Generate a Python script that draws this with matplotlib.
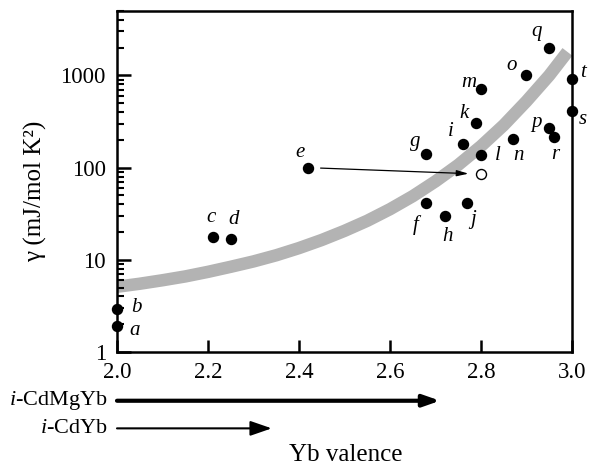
import numpy as np
import matplotlib.pyplot as plt
from matplotlib.ticker import FixedLocator, LogLocator, NullFormatter, FixedFormatter

plt.rcParams['font.family'] = ['Liberation Serif', 'DejaVu Serif']
plt.rcParams['mathtext.fontset'] = 'custom'
plt.rcParams['mathtext.rm'] = 'Liberation Serif'
plt.rcParams['mathtext.it'] = 'Liberation Serif:italic'

# samples a..t: Yb valence and gamma (mJ/mol K^2)
labels = list('abcdefghijklmnopqrst')
valence = [2.0, 2.0, 2.21, 2.25, 2.42, 2.68, 2.68, 2.72, 2.76, 2.77,
           2.79, 2.80, 2.80, 2.87, 2.90, 2.95, 2.95, 2.96, 3.0, 3.0]
gamma = [1.9, 2.9, 17.8, 16.9, 100, 41, 142, 30, 181, 41,
         306, 136, 710, 204, 1000, 268, 2000, 217, 410, 914]

# sample e moved to its corrected valence (open circle)
e_moved = (2.80, 85)

# grey guide curve
curve_x = [2.0, 2.05, 2.1, 2.15, 2.2, 2.25, 2.3, 2.35, 2.4, 2.45, 2.5,
           2.55, 2.6, 2.65, 2.7, 2.75, 2.8, 2.85, 2.9, 2.95, 2.99]
curve_y = [5.1, 5.5, 6.0, 6.6, 7.4, 8.4, 9.6, 11.2, 13.4, 16.4, 20.6,
           26.5, 35.4, 49, 71, 107, 171, 289, 525, 1000, 1800]

# valence ranges of the two alloy systems
ranges = {'CdMgYb': (2.0, 2.71), 'CdYb': (2.0, 2.34)}

# label offsets (points) for each letter
offsets = [(13, -3), (14, 1), (-1, 14), (2, 14), (-6, 11), (-8, -16), (-8, 9), (2, -15),
           (-9, 9), (4, -12), (-9, 7), (12, 0), (-9, 5), (4, -12), (-11, 7), (-9, 4),
           (-9, 12), (1, -13), (8, -6), (8, 5)]

fig = plt.figure(figsize=(5.96, 4.70), dpi=100)
ax = fig.add_axes([0.1963, 0.2511, 0.7634, 0.7255])

ax.plot(curve_x, curve_y, color='#b3b3b3', lw=9, solid_capstyle='butt',
        solid_joinstyle='round', zorder=1)
ax.plot(valence, gamma, 'o', color='black', ms=7.2, clip_on=False, zorder=5)
ax.plot(*e_moved, 'o', mfc='white', mec='black', mew=1.0, ms=7.2, zorder=5)
ax.annotate('', xy=e_moved, xytext=(valence[4], gamma[4]),
            arrowprops=dict(arrowstyle='-|>,head_length=0.7,head_width=0.18', color='black',
                            lw=0.9, shrinkA=9, shrinkB=9))

for lab, x, y, off in zip(labels, valence, gamma, offsets):
    ax.annotate(lab, (x, y), xytext=off, textcoords='offset points', ha='center', va='center',
                fontstyle='italic', fontsize=15, annotation_clip=False)

ax.set_yscale('log')
ax.set_xlim(2.0, 3.0)
ax.set_ylim(1, 5000)

ax.xaxis.set_major_locator(FixedLocator([2.0, 2.2, 2.4, 2.6, 2.8, 3.0]))
ax.xaxis.set_major_formatter(FixedFormatter(['2.0', '2.2', '2.4', '2.6', '2.8', '3.0']))
ax.yaxis.set_major_locator(FixedLocator([1, 10, 100, 1000]))
ax.yaxis.set_major_formatter(FixedFormatter(['1', '10', '100', '1000']))
ax.yaxis.set_minor_locator(LogLocator(base=10, subs=np.arange(2, 10)))
ax.yaxis.set_minor_formatter(NullFormatter())

ax.tick_params(axis='both', which='major', direction='in', width=1.8, labelsize=16.5)
ax.tick_params(axis='x', which='major', length=8.5, pad=7)
ax.tick_params(axis='y', which='major', length=10, pad=8)
ax.tick_params(axis='y', which='minor', direction='in', length=5, width=1.5)
for sp in ax.spines.values():
    sp.set_linewidth(1.8)

ax.text(-0.18, 0.47, 'γ (mJ/mol K²)', transform=ax.transAxes, rotation=90,
        ha='center', va='center', fontsize=18)
ax.text(0.502, -0.302, 'Yb valence', transform=ax.transAxes, ha='center', va='center', fontsize=18)

# valence range arrows under the axis
arrow_rows = [('CdMgYb', -0.143, 3.0, 'head_length=1.0,head_width=0.35'),
              ('CdYb', -0.224, 1.5, 'head_length=1.3,head_width=0.45')]
for name, yf, lw, head in arrow_rows:
    x0, x1 = ranges[name]
    ax.annotate('', xy=(x1, yf), xytext=(x0, yf), xycoords=('data', 'axes fraction'),
                textcoords=('data', 'axes fraction'), annotation_clip=False,
                arrowprops=dict(arrowstyle='-|>,' + head, color='black', lw=lw,
                                shrinkA=0, shrinkB=0))
    ax.text(-0.02, yf, r'$\mathit{i}$-' + name, transform=ax.transAxes, ha='right',
            va='center', fontsize=16)

fig.savefig('out.png', dpi=100)
